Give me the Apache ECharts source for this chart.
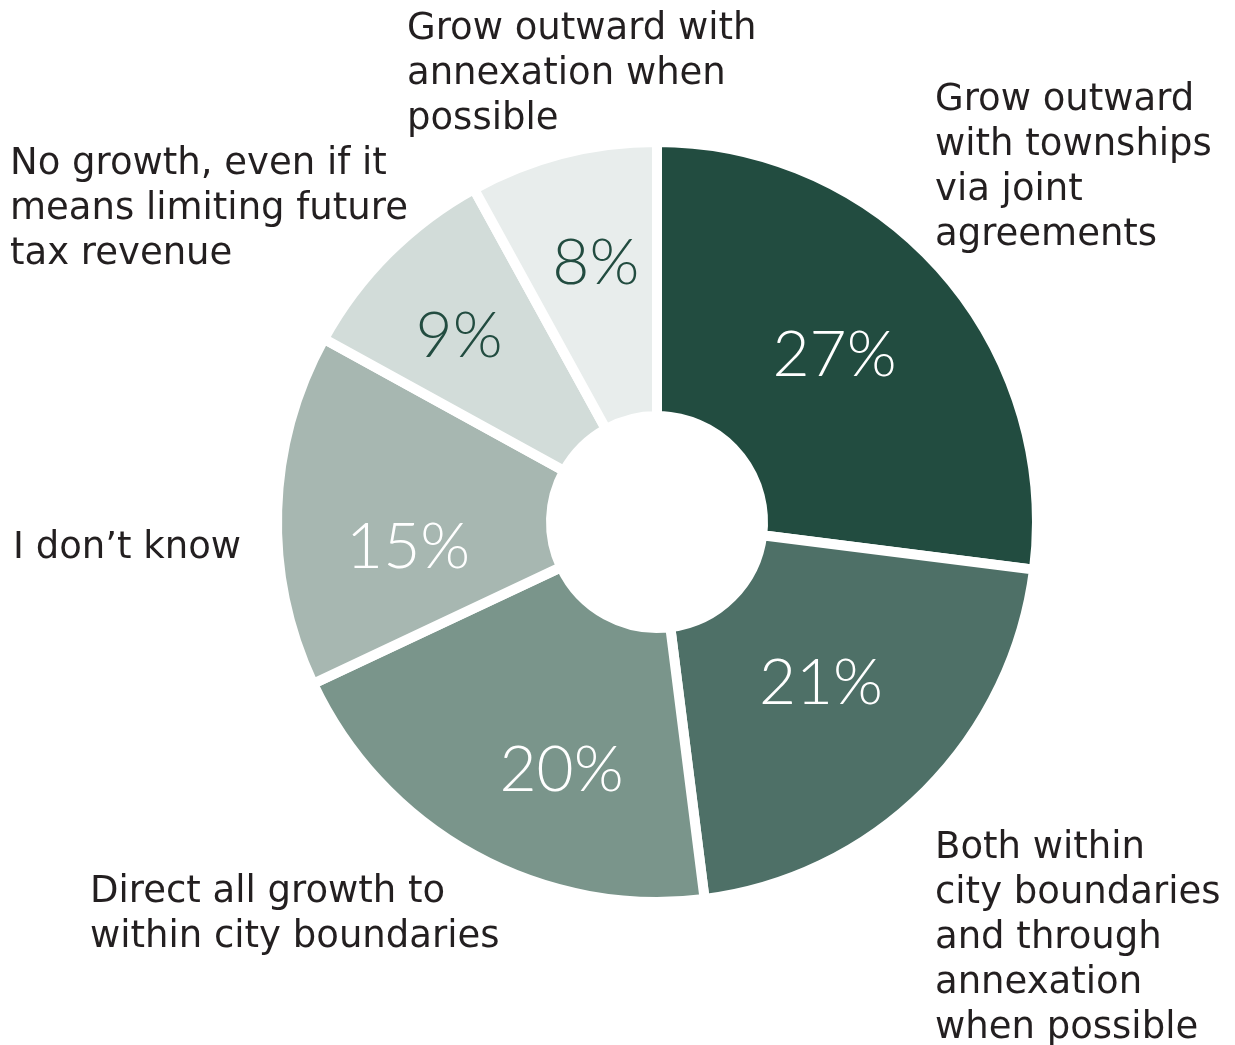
<!DOCTYPE html>
<html>
<head>
<meta charset="utf-8">
<script src="https://cdn.jsdelivr.net/npm/echarts@6/dist/echarts.min.js"></script>
<style>
  html, body { margin: 0; padding: 0; background: #ffffff; }
  #chart { width: 1235px; height: 1045px; }
</style>
</head>
<body>
<div id="chart"></div>
<script>
// Survey answers, clockwise from 12 o'clock
const categories = [
  'Grow outward\nwith townships\nvia joint\nagreements',
  'Both within\ncity boundaries\nand through\nannexation\nwhen possible',
  'Direct all growth to\nwithin city boundaries',
  'I don\u2019t know',
  'No growth, even if it\nmeans limiting future\ntax revenue',
  'Grow outward with\nannexation when\npossible'
];
const shares = [27, 21, 20, 15, 9, 8];

const sliceColors = ['#224c40', '#4e7067', '#7a958b', '#a7b7b1', '#d2dcd9', '#e8edec'];
const valueColors = ['#ffffff', '#ffffff', '#ffffff', '#ffffff', '#224c40', '#224c40'];

// Nudges of the percentage labels away from the slice mid-radius
const valueNudge = [[-7, -4], [-10, -13], [23, 33], [-3, 33], [-24, -12], [0, -20]];
// Top-left corners of the answer texts
const namePos = [[935, 78], [935, 826], [90, 870], [13, 526], [10, 142], [407, 7]];

const chart = echarts.init(document.getElementById('chart'), null, { renderer: 'canvas' });

const center = [657, 522];
const radius = [106, 380];

chart.setOption({
  animation: false,
  backgroundColor: '#ffffff',
  series: [
    {
      type: 'pie',
      center: center,
      radius: radius,
      startAngle: 90,
      clockwise: true,
      avoidLabelOverlap: false,
      itemStyle: { borderColor: '#ffffff', borderWidth: 10 },
      label: {
        show: true,
        position: 'inside',
        formatter: '{c}%',
        fontFamily: 'Lato',
        fontWeight: 300,
        fontSize: 64
      },
      labelLine: { show: false },
      labelLayout: function (p) {
        const n = valueNudge[p.dataIndex];
        return { dx: n[0], dy: n[1] };
      },
      emphasis: { disabled: true },
      data: shares.map(function (v, i) {
        return {
          value: v,
          name: categories[i],
          itemStyle: { color: sliceColors[i] },
          label: { color: valueColors[i] }
        };
      })
    },
    {
      type: 'pie',
      center: center,
      radius: radius,
      startAngle: 90,
      clockwise: true,
      silent: true,
      avoidLabelOverlap: false,
      itemStyle: { color: 'rgba(0,0,0,0)', borderWidth: 0 },
      label: {
        show: true,
        position: 'outside',
        formatter: '{b}',
        fontFamily: 'DejaVu Sans',
        fontSize: 37,
        lineHeight: 45,
        color: '#231f20',
        align: 'left'
      },
      labelLine: { show: false },
      labelLayout: function (p) {
        const pos = namePos[p.dataIndex];
        return { x: pos[0], y: pos[1], align: 'left', verticalAlign: 'top' };
      },
      data: shares.map(function (v, i) {
        return { value: v, name: categories[i] };
      })
    }
  ]
});
</script>
</body>
</html>
